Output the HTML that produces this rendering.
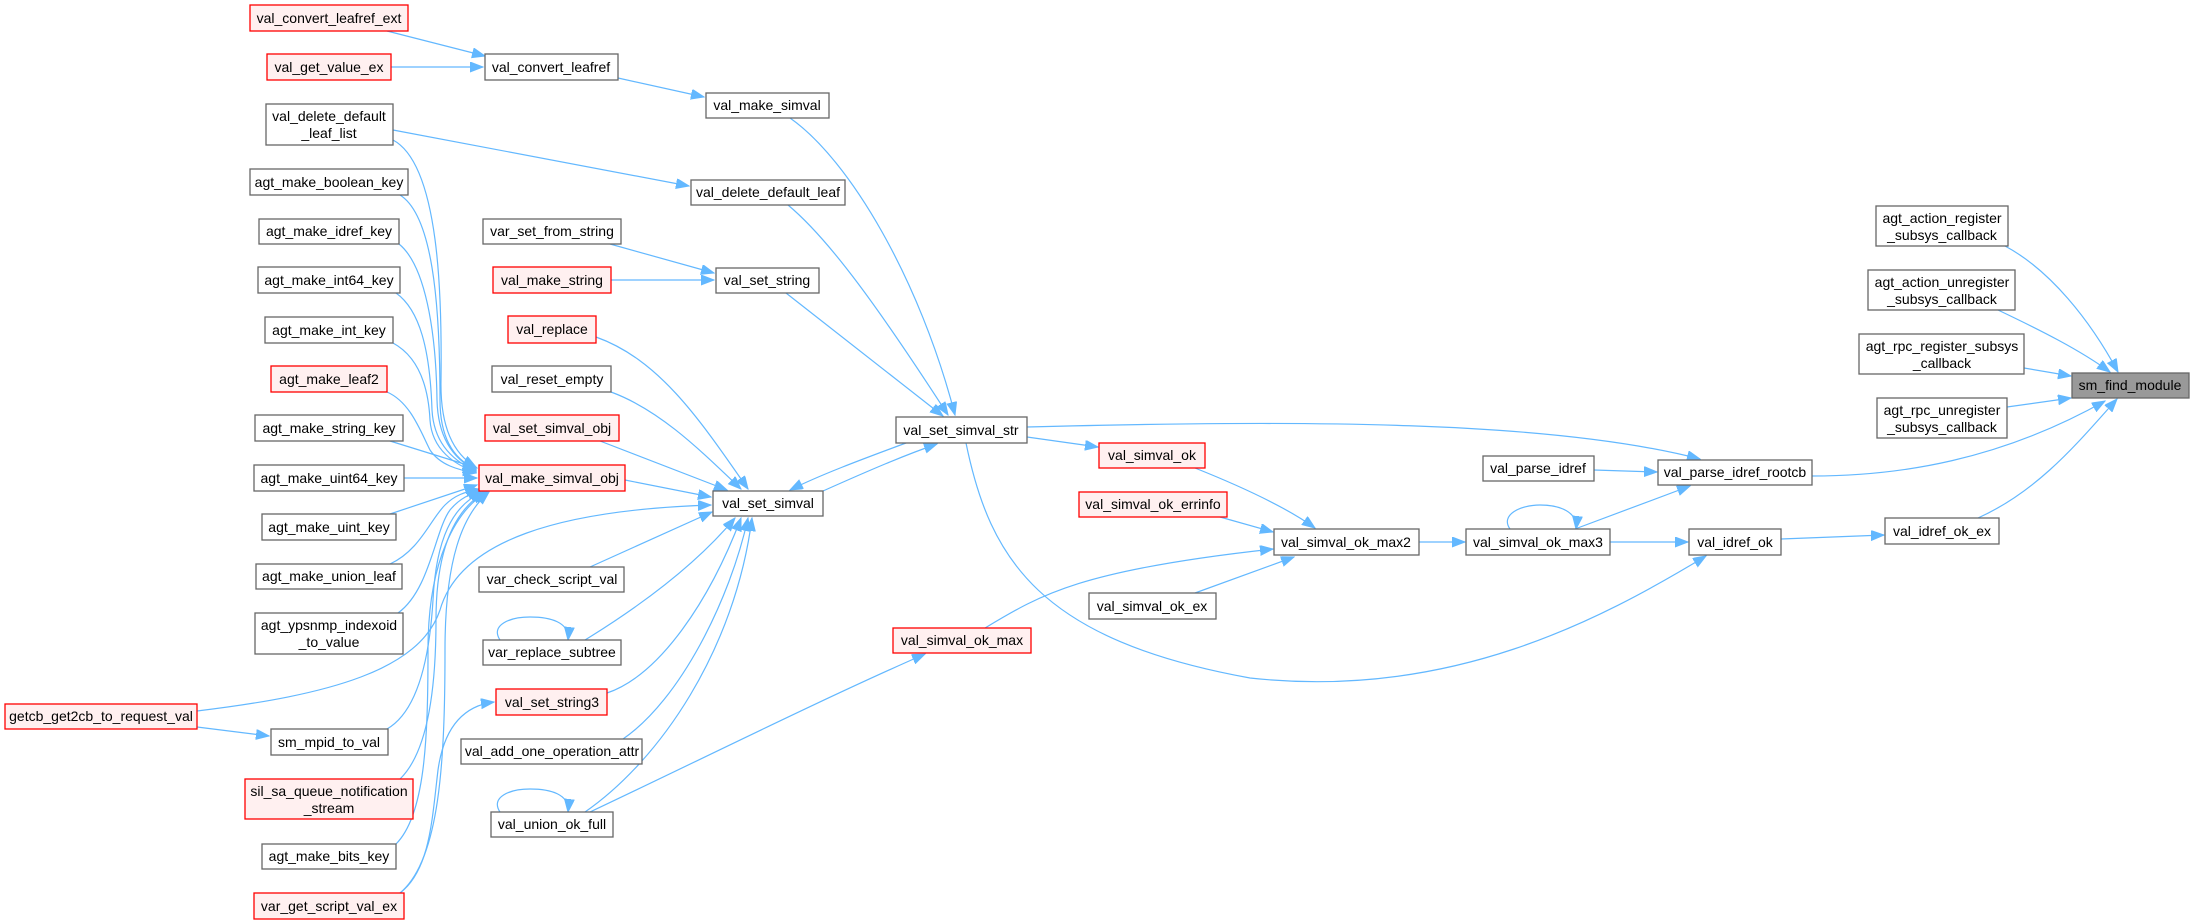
<!DOCTYPE html>
<html><head><meta charset="utf-8"><style>
html,body{margin:0;padding:0;background:#fff;}
svg{display:block;}
text{font-family:"Liberation Sans",Arial,sans-serif;font-size:14px;fill:#000;}
.n{fill:#fff;stroke:#666;stroke-width:1.3;}
.r{fill:#fff0f0;stroke:#ff0000;stroke-width:1.3;}
.g{fill:#999;stroke:#666;stroke-width:1.3;}
.e{fill:none;stroke:#63b8ff;stroke-width:1.2;marker-end:url(#a);}
</style></head><body>
<svg width="2195" height="924" viewBox="0 0 2195 924" xmlns="http://www.w3.org/2000/svg">
<defs><marker id="a" markerUnits="userSpaceOnUse" markerWidth="14" markerHeight="12" refX="13" refY="5" orient="auto"><path d="M0,0 L13,5 L0,10 z" fill="#63b8ff" stroke="#63b8ff"/></marker></defs>

<!-- edges -->
<path class="e" d="M387,31 L485,56"/>
<path class="e" d="M391,67 L483,67"/>
<path class="e" d="M618,78 L704,97"/>
<path class="e" d="M393,130 L689,186"/>
<path class="e" d="M393,140 C440,165 442,300 441,380 C440,430 455,455 476,467"/>
<path class="e" d="M400,195 C432,215 440,300 440,400 C440,440 455,460 476,469"/>
<path class="e" d="M399,244 C425,265 436,330 437,400 C438,440 455,460 476,470"/>
<path class="e" d="M396,293 C420,310 430,350 432,410 C434,445 455,462 476,471"/>
<path class="e" d="M393,343 C415,355 428,380 430,420 C432,450 455,465 476,472"/>
<path class="e" d="M387,392 C410,402 420,430 430,450 C440,465 458,470 476,473"/>
<path class="e" d="M390,441 L477,468"/>
<path class="e" d="M404,478 L477,478"/>
<path class="e" d="M390,514 L477,485"/>
<path class="e" d="M390,564 C420,550 430,520 445,505 C455,495 465,492 479,489"/>
<path class="e" d="M398,613 C430,590 435,530 450,510 C460,498 470,494 481,491"/>
<path class="e" d="M387,729 C420,710 430,650 433,600 C436,540 452,505 483,492"/>
<path class="e" d="M400,779 C430,750 436,680 436,620 C436,550 454,510 485,492"/>
<path class="e" d="M396,844 C425,815 428,740 428,650 C428,560 456,510 487,492"/>
<path class="e" d="M400,893 C440,860 445,760 445,650 C445,560 462,515 489,492"/>
<path class="e" d="M197,727 L269,736"/>
<path class="e" d="M197,711 C330,695 420,670 440,610 C460,540 560,510 711,505"/>
<path class="e" d="M400,893 C430,870 432,820 438,770 C445,720 470,705 494,702"/>
<path class="e" d="M610,244 L714,273"/>
<path class="e" d="M611,280 L714,280"/>
<path class="e" d="M786,293 L943,416"/>
<path class="e" d="M790,118 C850,160 920,280 955,415"/>
<path class="e" d="M788,205 C830,240 880,310 948,415"/>
<path class="e" d="M596,337 C660,360 700,420 748,489"/>
<path class="e" d="M611,392 C660,410 700,450 741,489"/>
<path class="e" d="M600,441 L727,490"/>
<path class="e" d="M625,480 L711,497"/>
<path class="e" d="M590,567 L712,512"/>
<path class="e" d="M585,640 C650,600 700,560 735,518"/>
<path class="e" d="M607,693 C660,675 710,600 741,518"/>
<path class="e" d="M623,739 C680,700 730,600 748,518"/>
<path class="e" d="M585,812 C660,760 735,650 752,518"/>
<path class="e" d="M590,812 C700,760 820,700 925,654"/>
<path class="e" d="M823,491 C870,470 905,455 937,444"/>
<path class="e" d="M906,443 C860,460 820,475 790,490"/>
<path class="e" d="M1027,437 L1098,447"/>
<path class="e" d="M1027,427 C1300,420 1550,420 1700,459"/>
<path class="e" d="M966,443 C990,560 1040,640 1250,678 C1450,700 1600,620 1706,556"/>
<path class="e" d="M1195,468 C1250,490 1290,510 1315,528"/>
<path class="e" d="M1220,517 L1273,532"/>
<path class="e" d="M1195,593 L1294,557"/>
<path class="e" d="M985,628 C1040,595 1080,570 1273,549"/>
<path class="e" d="M1419,542 L1465,542"/>
<path class="e" d="M1510,529 C1500,515 1520,505 1540,505 C1560,505 1578,512 1576,529"/>
<path class="e" d="M1575,529 L1690,486"/>
<path class="e" d="M1610,542 L1688,542"/>
<path class="e" d="M1594,470 L1657,472"/>
<path class="e" d="M1781,539 L1884,535"/>
<path class="e" d="M1812,476 C1900,476 2000,460 2105,401"/>
<path class="e" d="M1978,518 C2040,490 2080,440 2117,399"/>
<path class="e" d="M2005,246 C2050,270 2090,320 2118,372"/>
<path class="e" d="M1998,310 C2040,330 2080,350 2110,372"/>
<path class="e" d="M2024,368 L2071,376"/>
<path class="e" d="M2007,407 L2071,398"/>
<path class="e" d="M500,640 C490,625 510,617 530,617 C550,617 570,622 568,640"/>
<path class="e" d="M500,812 C490,797 510,789 530,789 C550,789 570,794 568,812"/>

<!-- nodes -->
<g>
<rect class="r" x="250" y="5" width="158" height="26"/><text x="329" y="23" text-anchor="middle">val_convert_leafref_ext</text>
<rect class="r" x="267" y="54" width="124" height="26"/><text x="329" y="72" text-anchor="middle">val_get_value_ex</text>
<rect class="n" x="485" y="54" width="133" height="26"/><text x="551" y="72" text-anchor="middle">val_convert_leafref</text>
<rect class="n" x="266" y="104" width="127" height="41"/><text x="329" y="121" text-anchor="middle">val_delete_default</text><text x="329" y="138" text-anchor="middle">_leaf_list</text>
<rect class="n" x="250" y="169" width="158" height="26"/><text x="329" y="187" text-anchor="middle">agt_make_boolean_key</text>
<rect class="n" x="259" y="219" width="140" height="25"/><text x="329" y="236" text-anchor="middle">agt_make_idref_key</text>
<rect class="n" x="258" y="267" width="142" height="26"/><text x="329" y="285" text-anchor="middle">agt_make_int64_key</text>
<rect class="n" x="265" y="317" width="128" height="26"/><text x="329" y="335" text-anchor="middle">agt_make_int_key</text>
<rect class="r" x="271" y="366" width="116" height="26"/><text x="329" y="384" text-anchor="middle">agt_make_leaf2</text>
<rect class="n" x="255" y="415" width="148" height="26"/><text x="329" y="433" text-anchor="middle">agt_make_string_key</text>
<rect class="n" x="254" y="465" width="150" height="26"/><text x="329" y="483" text-anchor="middle">agt_make_uint64_key</text>
<rect class="n" x="262" y="514" width="134" height="26"/><text x="329" y="532" text-anchor="middle">agt_make_uint_key</text>
<rect class="n" x="256" y="564" width="146" height="25"/><text x="329" y="581" text-anchor="middle">agt_make_union_leaf</text>
<rect class="n" x="255" y="613" width="148" height="41"/><text x="329" y="630" text-anchor="middle">agt_ypsnmp_indexoid</text><text x="329" y="647" text-anchor="middle">_to_value</text>
<rect class="r" x="5" y="704" width="192" height="25"/><text x="101" y="721" text-anchor="middle">getcb_get2cb_to_request_val</text>
<rect class="n" x="271" y="729" width="117" height="26"/><text x="329" y="747" text-anchor="middle">sm_mpid_to_val</text>
<rect class="r" x="245" y="779" width="168" height="40"/><text x="329" y="796" text-anchor="middle">sil_sa_queue_notification</text><text x="329" y="813" text-anchor="middle">_stream</text>
<rect class="n" x="262" y="844" width="134" height="25"/><text x="329" y="861" text-anchor="middle">agt_make_bits_key</text>
<rect class="r" x="254" y="893" width="150" height="26"/><text x="329" y="911" text-anchor="middle">var_get_script_val_ex</text>

<rect class="n" x="706" y="93" width="123" height="25"/><text x="767" y="110" text-anchor="middle">val_make_simval</text>
<rect class="n" x="691" y="180" width="154" height="25"/><text x="768" y="197" text-anchor="middle">val_delete_default_leaf</text>
<rect class="n" x="483" y="219" width="138" height="25"/><text x="552" y="236" text-anchor="middle">var_set_from_string</text>
<rect class="n" x="716" y="268" width="103" height="25"/><text x="767" y="285" text-anchor="middle">val_set_string</text>
<rect class="r" x="493" y="267" width="118" height="26"/><text x="552" y="285" text-anchor="middle">val_make_string</text>
<rect class="r" x="508" y="316" width="88" height="27"/><text x="552" y="334" text-anchor="middle">val_replace</text>
<rect class="n" x="492" y="366" width="119" height="26"/><text x="552" y="384" text-anchor="middle">val_reset_empty</text>
<rect class="r" x="485" y="415" width="134" height="26"/><text x="552" y="433" text-anchor="middle">val_set_simval_obj</text>
<rect class="r" x="479" y="465" width="146" height="26"/><text x="552" y="483" text-anchor="middle">val_make_simval_obj</text>
<rect class="n" x="479" y="567" width="145" height="25"/><text x="552" y="584" text-anchor="middle">var_check_script_val</text>
<rect class="n" x="483" y="640" width="138" height="25"/><text x="552" y="657" text-anchor="middle">var_replace_subtree</text>
<rect class="r" x="496" y="689" width="111" height="26"/><text x="552" y="707" text-anchor="middle">val_set_string3</text>
<rect class="n" x="461" y="739" width="181" height="25"/><text x="552" y="756" text-anchor="middle">val_add_one_operation_attr</text>
<rect class="n" x="491" y="812" width="122" height="25"/><text x="552" y="829" text-anchor="middle">val_union_ok_full</text>

<rect class="n" x="713" y="491" width="110" height="25"/><text x="768" y="508" text-anchor="middle">val_set_simval</text>
<rect class="n" x="896" y="417" width="131" height="26"/><text x="961" y="435" text-anchor="middle">val_set_simval_str</text>
<rect class="r" x="1099" y="443" width="106" height="25"/><text x="1152" y="460" text-anchor="middle">val_simval_ok</text>
<rect class="r" x="1079" y="492" width="148" height="25"/><text x="1153" y="509" text-anchor="middle">val_simval_ok_errinfo</text>
<rect class="n" x="1089" y="593" width="127" height="26"/><text x="1152" y="611" text-anchor="middle">val_simval_ok_ex</text>
<rect class="r" x="893" y="628" width="138" height="25"/><text x="962" y="645" text-anchor="middle">val_simval_ok_max</text>
<rect class="n" x="1274" y="529" width="145" height="26"/><text x="1346" y="547" text-anchor="middle">val_simval_ok_max2</text>
<rect class="n" x="1466" y="529" width="144" height="26"/><text x="1538" y="547" text-anchor="middle">val_simval_ok_max3</text>
<rect class="n" x="1483" y="456" width="111" height="25"/><text x="1538" y="473" text-anchor="middle">val_parse_idref</text>
<rect class="n" x="1658" y="460" width="154" height="25"/><text x="1735" y="477" text-anchor="middle">val_parse_idref_rootcb</text>
<rect class="n" x="1689" y="529" width="92" height="26"/><text x="1735" y="547" text-anchor="middle">val_idref_ok</text>
<rect class="n" x="1885" y="518" width="114" height="26"/><text x="1942" y="536" text-anchor="middle">val_idref_ok_ex</text>

<rect class="n" x="1876" y="206" width="132" height="40"/><text x="1942" y="223" text-anchor="middle">agt_action_register</text><text x="1942" y="240" text-anchor="middle">_subsys_callback</text>
<rect class="n" x="1868" y="270" width="147" height="40"/><text x="1942" y="287" text-anchor="middle">agt_action_unregister</text><text x="1942" y="304" text-anchor="middle">_subsys_callback</text>
<rect class="n" x="1859" y="334" width="165" height="40"/><text x="1942" y="351" text-anchor="middle">agt_rpc_register_subsys</text><text x="1942" y="368" text-anchor="middle">_callback</text>
<rect class="n" x="1877" y="398" width="130" height="40"/><text x="1942" y="415" text-anchor="middle">agt_rpc_unregister</text><text x="1942" y="432" text-anchor="middle">_subsys_callback</text>
<rect class="g" x="2072" y="373" width="117" height="25"/><text x="2130" y="390" text-anchor="middle">sm_find_module</text>
</g>
</svg>
</body></html>
